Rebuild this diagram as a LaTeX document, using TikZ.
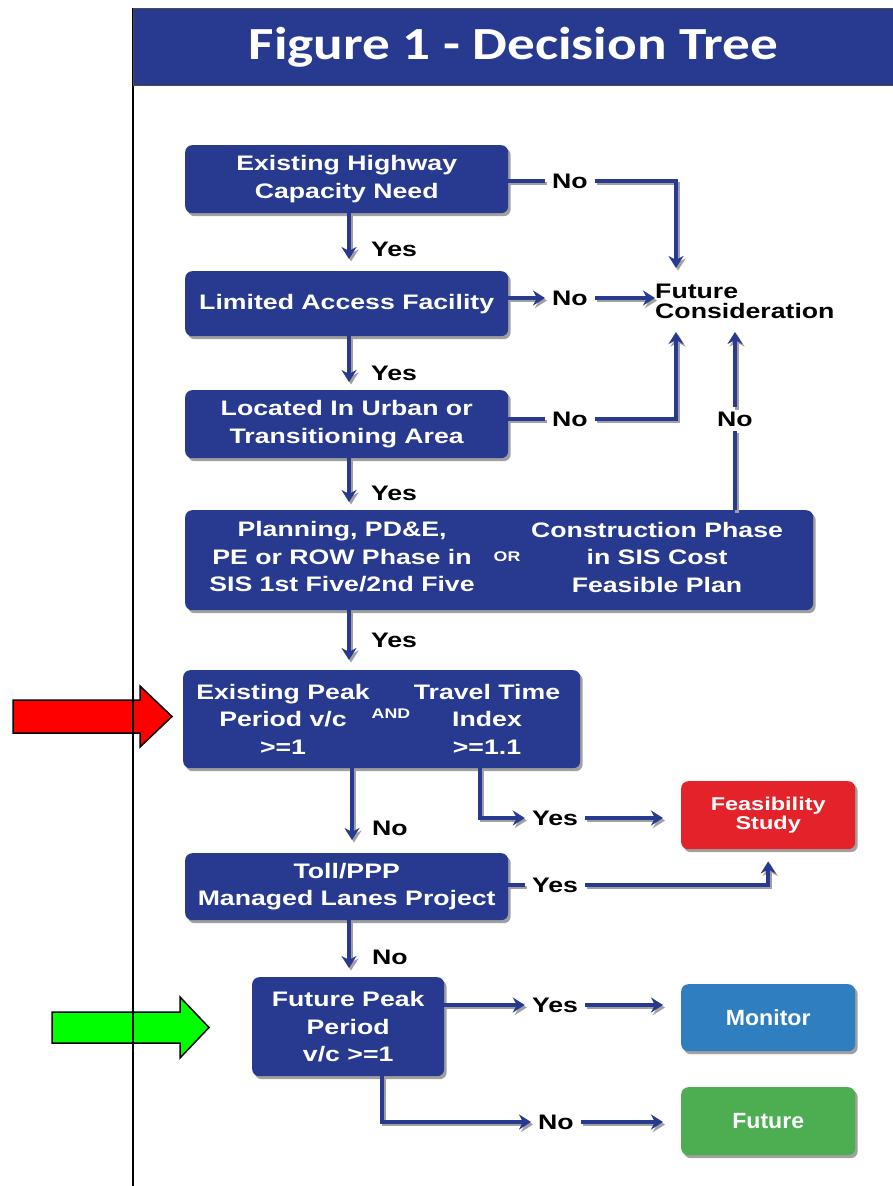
\documentclass[tikz,border=0pt]{standalone}
\usepackage{fontspec}
\setmainfont{Liberation Sans}[FakeStretch=1.27]
\newfontfamily\titlefont{Carlito}[FakeStretch=1.2]
\newfontfamily\narrowfont{Liberation Sans}[FakeStretch=1.05]
\usetikzlibrary{arrows.meta,shadows,calc}
\definecolor{navy}{HTML}{283A8F}
\definecolor{shgray}{HTML}{A0A0A0}
\definecolor{fsred}{HTML}{E3222A}
\definecolor{monblue}{HTML}{2F7FC0}
\definecolor{futgreen}{HTML}{4CAE50}
\definecolor{blockred}{HTML}{FF0000}
\definecolor{blockgreen}{HTML}{00FF00}
\begin{document}
\begin{tikzpicture}[x=1pt,y=-1pt,
  box/.style={fill=navy, rounded corners=7pt, text=white,
    font=\bfseries\fontsize{21}{27.5}\selectfont, align=center, inner sep=0pt,
    anchor=north west,
    drop shadow={opacity=1, fill=shgray, shadow xshift=2.5pt, shadow yshift=-3pt}},
  inbox/.style={text=white, font=\bfseries\fontsize{21}{27.5}\selectfont, align=center, inner sep=0pt},
  small/.style={text=white, font=\bfseries\fontsize{14}{16}\selectfont, inner sep=0pt},
  lbl/.style={font=\bfseries\fontsize{21}{25}\selectfont, inner xsep=7pt, inner ysep=4pt},
  conn/.style={draw=navy, line width=4.5pt,
    preaction={draw=shgray, line width=3.5pt, transform canvas={shift={(2pt,-2.5pt)}}}},
  arr/.style={conn, -{Stealth[length=12pt,width=15pt]}},
]
\useasboundingbox[fill=white] (0,0) rectangle (893,1186);

% pointer arrows
\draw[fill=blockred, line width=1.5pt, line join=miter]
  (13,700) -- (140,700) -- (140,686) -- (172,716.5) -- (140,747) -- (140,733) -- (13,733) -- cycle;
\draw[fill=blockgreen, line width=1.5pt, line join=miter]
  (52,1012) -- (180,1012) -- (180,997) -- (209,1027.5) -- (180,1058) -- (180,1043) -- (52,1043) -- cycle;

% frame and title
\draw[line width=1.5pt] (133,8) -- (133,1186);
\node[fill=navy, draw=black!70, line width=1pt, minimum width=760pt, minimum height=77pt,
  anchor=north west, inner sep=0pt, text=white, font=\titlefont\bfseries\fontsize{46}{52}\selectfont]
  (title) at (133,8) {Figure 1 - Decision Tree};

% boxes
\node[box, minimum width=323pt, minimum height=68pt] (b1) at (185,145) {Existing Highway\\Capacity Need};
\node[box, minimum width=323pt, minimum height=65pt] (b2) at (185,271) {Limited Access Facility};
\node[box, minimum width=323pt, minimum height=68pt] (b3) at (185,390) {Located In Urban or\\Transitioning Area};
\node[box, minimum width=628pt, minimum height=100pt] (b4) at (185,510) {};
\node[inbox] (b4l) at (342,557) {Planning, PD\&E,\\PE or ROW Phase in\\SIS 1st Five/2nd Five};
\node[small] (b4or) at (507,557) {OR};
\node[inbox] (b4r) at (657,557) {Construction Phase\\in SIS Cost\\Feasible Plan};
\node[box, minimum width=397pt, minimum height=98pt] (b5) at (183,670) {};
\node[inbox] (b5l) at (283,719) {Existing Peak\\Period v/c\\>=1};
\node[small] (b5and) at (391,714) {AND};
\node[inbox] (b5r) at (487,719) {Travel Time\\Index\\>=1.1};
\node[box, minimum width=323pt, minimum height=67pt] (b6) at (185,853) {Toll/PPP\\Managed Lanes Project};
\node[box, minimum width=192pt, minimum height=99pt] (b7) at (252,977) {Future Peak\\Period\\v/c >=1};
\node[box, fill=fsred, minimum width=174pt, minimum height=68pt,
  font=\bfseries\fontsize{18.5}{19}\selectfont] (fs) at (681,781) {Feasibility\\Study};
\node[box, fill=monblue, minimum width=174pt, minimum height=67pt,
  font=\narrowfont\bfseries\fontsize{22}{26}\selectfont] (mon) at (681,984) {Monitor};
\node[box, fill=futgreen, minimum width=174pt, minimum height=68pt,
  font=\narrowfont\bfseries\fontsize{22}{26}\selectfont] (fut) at (681,1087) {Future};

\node[anchor=west, align=left, inner sep=0pt, font=\bfseries\fontsize{21}{20}\selectfont]
  (fc) at (655,301) {Future\\Consideration};
\coordinate (fcN) at (676,268);
\coordinate (fcS1) at (676,332);
\coordinate (fcS2) at (735,332);

% labels
\node[lbl] (n1) at (570,181) {No};
\node[lbl] (y1) at (394,249) {Yes};
\node[lbl] (n2) at (570,298) {No};
\node[lbl] (y2) at (394,373) {Yes};
\node[lbl] (n3) at (570,419) {No};
\node[lbl] (y3) at (394,493) {Yes};
\node[lbl] (n4) at (735,419) {No};
\node[lbl] (y4) at (394,640) {Yes};
\node[lbl] (y5) at (555,818) {Yes};
\node[lbl] (n5) at (390,828) {No};
\node[lbl] (y6) at (555,885) {Yes};
\node[lbl] (n6) at (390,957) {No};
\node[lbl] (y7) at (555,1005) {Yes};
\node[lbl] (n7) at (556,1122) {No};

% connectors
\draw[conn] (b1.east |- n1) -- (n1.west);
\draw[arr] (n1.east) -| (fcN);
\draw[arr] (b2.east |- n2) -- (n2.west);
\draw[arr] (n2.east) -- (fc.west |- n2) ;
\draw[conn] (b3.east |- n3) -- (n3.west);
\draw[arr] (n3.east) -| (fcS1);
\draw[conn] (b4.north -| n4) -- (n4.south);
\draw[arr] (n4.north) -- (fcS2);

\draw[arr, shorten >=12pt] (b1.south -| 349,0) -- (b2.north -| 349,0);
\draw[arr, shorten >=8pt] (b2.south -| 349,0) -- (b3.north -| 349,0);
\draw[arr, shorten >=8pt] (b3.south -| 349,0) -- (b4.north -| 349,0);
\draw[arr, shorten >=10pt] (b4.south -| 349,0) -- (b5.north -| 349,0);
\draw[arr, shorten >=13pt] (b5.south -| 352,0) -- (b6.north -| 352,0);
\draw[arr, shorten >=9pt] (b6.south -| 349,0) -- (b7.north -| 349,0);

\draw[arr] (b5.south -| 480,0) |- (y5.west);
\draw[arr, shorten >=18pt] (y5.east) -- (y5.east -| fs.west);
\draw[conn] (b6.east |- y6) -- (y6.west);
\draw[arr, shorten >=12pt] (y6.east) -| (fs.south);
\draw[arr] (b7.east |- y7) -- (y7.west);
\draw[arr, shorten >=18pt] (y7.east) -- (y7.east -| mon.west);
\draw[arr] (b7.south -| 382,0) |- (n7.west);
\draw[arr, shorten >=18pt] (n7.east) -- (n7.east -| fut.west);
\end{tikzpicture}
\end{document}
